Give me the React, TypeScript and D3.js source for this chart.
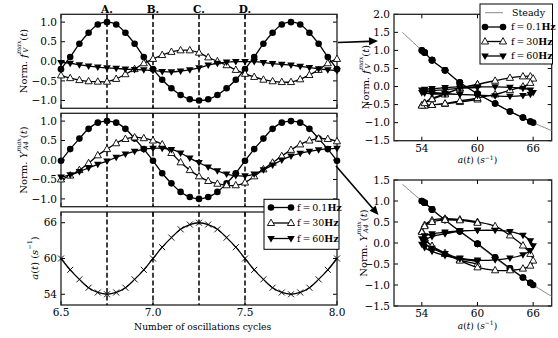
import React from "react";
import * as d3 from "d3";

// sample times (oscillation cycles), one marker every 0.05 cycle
const cycles = [
  6.5, 6.55, 6.6, 6.65, 6.7, 6.75, 6.8, 6.85, 6.9, 6.95, 7.0, 7.05, 7.1, 7.15, 7.2, 7.25,
  7.3, 7.35, 7.4, 7.45, 7.5, 7.55, 7.6, 7.65, 7.7, 7.75, 7.8, 7.85, 7.9, 7.95, 8.0,
];
// a(t) in s^-1
const rate = [
  60, 58.1, 56.5, 55.1, 54.3, 54, 54.3, 55.1, 56.5, 58.1, 60, 61.9, 63.5, 64.9, 65.7, 66,
  65.7, 64.9, 63.5, 61.9, 60, 58.1, 56.5, 55.1, 54.3, 54, 54.3, 55.1, 56.5, 58.1, 60,
];
// Norm. f_V^max(t)
const fv01 = [
  -0.2, 0.11, 0.45, 0.73, 0.94, 1.0, 0.94, 0.73, 0.45, 0.11, -0.2, -0.47, -0.69, -0.86, -0.97, -1.0,
  -0.97, -0.86, -0.69, -0.47, -0.2, 0.11, 0.45, 0.73, 0.94, 1.0, 0.94, 0.73, 0.45, 0.11, -0.2,
];
const fv30 = [
  -0.36, -0.43, -0.48, -0.51, -0.52, -0.52, -0.45, -0.33, -0.2, -0.05, 0.06, 0.16, 0.24, 0.28, 0.28, 0.22,
  0.1, 0.0, -0.1, -0.22, -0.32, -0.4, -0.47, -0.51, -0.53, -0.53, -0.46, -0.35, -0.22, -0.05, 0.06,
];
const fv60 = [
  -0.03, -0.05, -0.09, -0.12, -0.15, -0.17, -0.18, -0.2, -0.21, -0.22, -0.24, -0.26, -0.27, -0.25, -0.22, -0.17,
  -0.1, -0.05, -0.02, -0.01, -0.01, -0.01, -0.03, -0.06, -0.08, -0.1, -0.13, -0.16, -0.19, -0.22, -0.24,
];
// Norm. Y_A4^max(t)
const ya01 = [
  -0.02, 0.28, 0.55, 0.8, 0.96, 1.0, 0.96, 0.8, 0.55, 0.28, -0.02, -0.34, -0.6, -0.82, -0.95, -1.0,
  -0.95, -0.82, -0.6, -0.34, -0.02, 0.28, 0.55, 0.8, 0.96, 1.0, 0.96, 0.8, 0.55, 0.28, -0.02,
];
const ya30 = [
  -0.5, -0.4, -0.26, -0.08, 0.12, 0.28, 0.43, 0.54, 0.58, 0.56, 0.5, 0.4, 0.18, -0.06, -0.26, -0.42,
  -0.54, -0.61, -0.65, -0.65, -0.58, -0.42, -0.24, -0.07, 0.1, 0.26, 0.4, 0.5, 0.55, 0.54, 0.48,
];
const ya60 = [
  -0.44, -0.38, -0.3, -0.2, -0.11, -0.03, 0.07, 0.15, 0.22, 0.28, 0.3, 0.3, 0.27, 0.18, 0.05, -0.07,
  -0.18, -0.28, -0.36, -0.4, -0.41, -0.36, -0.25, -0.13, 0.0, 0.1, 0.17, 0.22, 0.26, 0.29, 0.3,
];
// steady-state curves
const steadyRateF = [51.9, 54, 55.1, 56.5, 58.1, 60, 61.9, 63.5, 64.9, 66, 68];
const steadyF = [1.5, 1.0, 0.73, 0.45, 0.11, -0.2, -0.47, -0.69, -0.86, -1.0, -1.22];
const steadyRateY = [51.9, 54, 56.5, 58.1, 60, 61.9, 63.5, 66, 68];
const steadyY = [1.4, 1.0, 0.55, 0.27, -0.04, -0.36, -0.62, -1.0, -1.27];

const freqLabels = ["0.1", "30", "60"];
const markers = ["circle", "up", "down"];
const instantLabels = ["A.", "B.", "C.", "D."];
const instantCycles = [6.75, 7.0, 7.25, 7.5];

const cycleTicks = [6.5, 7.0, 7.5, 8.0];
const normTicks = [1.0, 0.5, 0.0, -0.5, -1.0];
const rateTicks = [54, 60, 66];
const rightTopTicks = [2.0, 1.5, 1.0, 0.5, 0.0, -0.5, -1.0, -1.5];
const rightBotTicks = [1.5, 1.0, 0.5, 0.0, -0.5, -1.0, -1.5];

const FONT = "DejaVu Serif";
const fmt1 = (v: number) => d3.format(".1f")(v).replace("-", "\u2212");

const Marker = ({ kind, x, y }: { kind: string; x: number; y: number }) => {
  if (kind === "circle") return <circle cx={x} cy={y} r={3.3} fill="black" />;
  if (kind === "up")
    return (
      <path
        d={`M${x},${y - 3.9}L${x + 3.6},${y + 2.5}L${x - 3.6},${y + 2.5}Z`}
        fill="white"
        stroke="black"
        strokeWidth={0.9}
      />
    );
  if (kind === "down")
    return <path d={`M${x},${y + 3.9}L${x + 3.8},${y - 2.6}L${x - 3.8},${y - 2.6}Z`} fill="black" />;
  return (
    <path d={`M${x - 3},${y - 3}L${x + 3},${y + 3}M${x - 3},${y + 3}L${x + 3},${y - 3}`} stroke="black" strokeWidth={0.9} />
  );
};

type Sc = d3.ScaleLinear<number, number>;

const Frame = ({
  xs, ys, xTicks, yTicks, xFmt, yFmt, showX,
}: {
  xs: Sc; ys: Sc; xTicks: number[]; yTicks: number[];
  xFmt: (v: number) => string; yFmt: (v: number) => string; showX: boolean;
}) => {
  const [x0, x1] = xs.range();
  const [y1, y0] = ys.range();
  const tl = 4;
  return (
    <g>
      {xTicks.map((t) => (
        <g key={"x" + t}>
          <line x1={xs(t)} x2={xs(t)} y1={y1} y2={y1 - tl} stroke="black" />
          <line x1={xs(t)} x2={xs(t)} y1={y0} y2={y0 + tl} stroke="black" />
          {showX && (
            <text x={xs(t)} y={y1 + 11} textAnchor="middle" fontFamily={FONT} fontSize={10.5}>
              {xFmt(t)}
            </text>
          )}
        </g>
      ))}
      {yTicks.map((t) => (
        <g key={"y" + t}>
          <line x1={x0} x2={x0 + tl} y1={ys(t)} y2={ys(t)} stroke="black" />
          <line x1={x1} x2={x1 - tl} y1={ys(t)} y2={ys(t)} stroke="black" />
          <text x={x0 - 4} y={ys(t)} dy="0.35em" textAnchor="end" fontFamily={FONT} fontSize={10.5}>
            {yFmt(t)}
          </text>
        </g>
      ))}
      <rect x={x0} y={y0} width={x1 - x0} height={y1 - y0} fill="none" stroke="#222" strokeWidth={1.3} />
    </g>
  );
};

const Series = ({ xs, ys, xv, yv, kind }: { xs: Sc; ys: Sc; xv: number[]; yv: number[]; kind: string }) => {
  const pts = xv.map((v, i) => [xs(v), ys(yv[i])] as [number, number]);
  const line = d3.line().curve(d3.curveCatmullRom.alpha(0.5));
  return (
    <g>
      <path d={line(pts) || ""} fill="none" stroke="black" strokeWidth={1.3} />
      {pts.map((p, i) => (
        <Marker key={i} kind={kind} x={p[0]} y={p[1]} />
      ))}
    </g>
  );
};

const YLabel = ({ x, y, kind }: { x: number; y: number; kind: string }) => (
  <text transform={`translate(${x},${y}) rotate(-90)`} textAnchor="middle" fontFamily={FONT} fontSize={10} dominantBaseline="central">
    {kind === "rate" ? (
      <>
        <tspan fontStyle="italic">a</tspan>
        <tspan>(</tspan>
        <tspan fontStyle="italic">t</tspan>
        <tspan>) (</tspan>
        <tspan fontStyle="italic">s</tspan>
        <tspan fontSize={6.5} dy={-4}>{"\u22121"}</tspan>
        <tspan dy={4}>)</tspan>
      </>
    ) : (
      <>
        <tspan>Norm. </tspan>
        <tspan fontStyle="italic">{kind === "f" ? "f" : "Y"}</tspan>
        <tspan fontSize={6.5} fontStyle="italic" dy={-4}>max</tspan>
        <tspan fontSize={6.5} fontStyle="italic" dx={-12} dy={7}>
          {kind === "f" ? "V" : "A4"}
        </tspan>
        <tspan dx={kind === "f" ? 7 : 3} dy={-3}>(</tspan>
        <tspan fontStyle="italic">t</tspan>
        <tspan>)</tspan>
      </>
    )}
  </text>
);

const Arrow = ({ x1, y1, x2, y2 }: { x1: number; y1: number; x2: number; y2: number }) => {
  const ang = Math.atan2(y2 - y1, x2 - x1);
  const len = 9;
  const w = 4;
  const bx = x2 - len * Math.cos(ang);
  const by = y2 - len * Math.sin(ang);
  const px = -Math.sin(ang) * w;
  const py = Math.cos(ang) * w;
  return (
    <g>
      <line x1={x1} y1={y1} x2={bx} y2={by} stroke="black" strokeWidth={1.6} />
      <path d={`M${x2},${y2}L${bx + px},${by + py}L${bx - px},${by - py}Z`} fill="black" />
    </g>
  );
};

const FreqText = ({ x, y, f }: { x: number; y: number; f: string }) => (
  <text x={x} y={y} dy="0.35em" fontFamily={FONT} fontSize={9.5}>
    <tspan>{"f\u2009=\u2009" + f}</tspan>
    <tspan fontWeight="bold">Hz</tspan>
  </text>
);

const RateLabel = ({ x, y }: { x: number; y: number }) => (
  <text x={x} y={y} textAnchor="middle" fontFamily={FONT} fontSize={9}>
    <tspan fontStyle="italic">a</tspan>(<tspan fontStyle="italic">t</tspan>) (<tspan fontStyle="italic">s</tspan>
    <tspan fontSize={6} dy={-3.5}>{"\u22121"}</tspan>
    <tspan dy={3.5}>)</tspan>
  </text>
);

export default function App() {
  const xL = d3.scaleLinear().domain([6.5, 8.0]).range([61, 337]);
  const yTop = d3.scaleLinear().domain([-1.2, 1.2]).range([108.3, 14.3]);
  const yMid = d3.scaleLinear().domain([-1.2, 1.2]).range([206.7, 113.3]);
  const yBot = d3.scaleLinear().domain([52.2, 67.8]).range([305, 212]);
  const xR = d3.scaleLinear().domain([51, 68]).range([394, 551.7]);
  const yRT = d3.scaleLinear().domain([-1.5, 2.0]).range([140.7, 14.3]);
  const yRB = d3.scaleLinear().domain([-1.5, 1.5]).range([306, 180]);

  const fvSeries = [fv01, fv30, fv60];
  const yaSeries = [ya01, ya30, ya60];

  const steadyPath = (xs: Sc, ys: Sc, av: number[], vv: number[]) =>
    d3.line().curve(d3.curveCatmullRom)(av.map((a, i) => [xs(a), ys(vv[i])] as [number, number])) || "";

  return (
    <svg width={558} height={338} style={{ position: "absolute", left: 0, top: 0, background: "white" }}>
      {/* left column */}
      <Frame xs={xL} ys={yTop} xTicks={cycleTicks} yTicks={normTicks} xFmt={fmt1} yFmt={fmt1} showX={false} />
      <Frame xs={xL} ys={yMid} xTicks={cycleTicks} yTicks={normTicks} xFmt={fmt1} yFmt={fmt1} showX={false} />
      <Frame xs={xL} ys={yBot} xTicks={cycleTicks} yTicks={rateTicks} xFmt={fmt1} yFmt={(v) => String(v)} showX={true} />

      {[yTop, yMid, yBot].map((ys, k) =>
        instantCycles.map((c) => (
          <line key={k + "-" + c} x1={xL(c)} x2={xL(c)} y1={ys.range()[1]} y2={ys.range()[0]} stroke="black" strokeWidth={1.5} strokeDasharray="5,2.6" />
        ))
      )}
      {instantCycles.map((c, i) => (
        <text key={c} x={xL(c)} y={12.5} textAnchor="middle" fontFamily={FONT} fontSize={10.5} fontWeight="bold">
          {instantLabels[i]}
        </text>
      ))}

      {fvSeries.map((s, i) => (
        <Series key={"fv" + i} xs={xL} ys={yTop} xv={cycles} yv={s} kind={markers[i]} />
      ))}
      {yaSeries.map((s, i) => (
        <Series key={"ya" + i} xs={xL} ys={yMid} xv={cycles} yv={s} kind={markers[i]} />
      ))}
      <Series xs={xL} ys={yBot} xv={cycles} yv={rate} kind="x" />

      <YLabel x={23} y={61} kind="f" />
      <YLabel x={23} y={160} kind="y" />
      <YLabel x={34} y={258} kind="rate" />
      <text x={xL(7.27)} y={330} textAnchor="middle" fontFamily={FONT} fontSize={9.2}>
        Number of oscillations cycles
      </text>

      {/* left legend */}
      <rect x={264} y={199.3} width={75} height={50} fill="white" stroke="black" strokeWidth={1} />
      {freqLabels.map((f, i) => {
        const y = 207.5 + i * 15.5;
        return (
          <g key={f}>
            <line x1={271} x2={291} y1={y} y2={y} stroke="black" strokeWidth={1.3} />
            <Marker kind={markers[i]} x={271} y={y} />
            <Marker kind={markers[i]} x={291} y={y} />
            <FreqText x={297} y={y} f={f} />
          </g>
        );
      })}

      {/* right column */}
      <Frame xs={xR} ys={yRT} xTicks={rateTicks} yTicks={rightTopTicks} xFmt={(v) => String(v)} yFmt={fmt1} showX={true} />
      <Frame xs={xR} ys={yRB} xTicks={rateTicks} yTicks={rightBotTicks} xFmt={(v) => String(v)} yFmt={fmt1} showX={true} />
      <path d={steadyPath(xR, yRT, steadyRateF, steadyF)} fill="none" stroke="#888" strokeWidth={1} />
      <path d={steadyPath(xR, yRB, steadyRateY, steadyY)} fill="none" stroke="#888" strokeWidth={1} />
      {fvSeries.map((s, i) => (
        <Series key={"rfv" + i} xs={xR} ys={yRT} xv={rate} yv={s} kind={markers[i]} />
      ))}
      {yaSeries.map((s, i) => (
        <Series key={"rya" + i} xs={xR} ys={yRB} xv={rate} yv={s} kind={markers[i]} />
      ))}
      <YLabel x={365} y={77} kind="f" />
      <YLabel x={363} y={243} kind="y" />
      <RateLabel x={xR(60)} y={yRT.range()[0] + 22.5} />
      <RateLabel x={xR(60)} y={yRB.range()[0] + 22.5} />

      {/* right legend */}
      <rect x={480} y={4} width={72.5} height={60} fill="white" stroke="black" strokeWidth={1} />
      <line x1={485} x2={503} y1={12.7} y2={12.7} stroke="#888" strokeWidth={1} />
      <text x={512} y={12.7} dy="0.35em" fontFamily={FONT} fontSize={9.5}>
        Steady
      </text>
      {freqLabels.map((f, i) => {
        const y = 27 + i * 14.5;
        return (
          <g key={"r" + f}>
            <line x1={485} x2={503} y1={y} y2={y} stroke="black" strokeWidth={1.3} />
            <Marker kind={markers[i]} x={485} y={y} />
            <Marker kind={markers[i]} x={503} y={y} />
            <FreqText x={511} y={y} f={f} />
          </g>
        );
      })}

      <Arrow x1={338} y1={42.5} x2={378} y2={41} />
      <Arrow x1={336} y1={166} x2={378.5} y2={215} />
    </svg>
  );
}
